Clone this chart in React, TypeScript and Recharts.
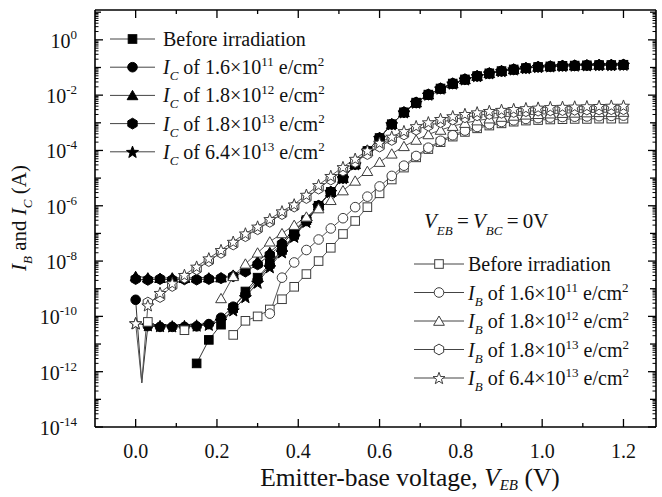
import React from 'react';
import { LineChart, Line, XAxis, YAxis } from 'recharts';

const SERIF = "'Liberation Serif', 'Times New Roman', serif";

// emitter-base voltage grid (V); 0.015 only carries the dip of two curves
const VEB = [
  0, 0.015, 0.03, 0.06, 0.09, 0.12, 0.15, 0.18, 0.21, 0.24, 0.27, 0.3, 0.33, 0.36, 0.39, 0.42,
  0.45, 0.48, 0.51, 0.54, 0.57, 0.6, 0.63, 0.66, 0.69, 0.72, 0.75, 0.78, 0.81, 0.84, 0.87, 0.9,
  0.93, 0.96, 0.99, 1.02, 1.05, 1.08, 1.11, 1.14, 1.17, 1.2,
];
const NO_MARKER_AT = [0.015];

// all values are log10 of the current in A
// collector current above 0.45 V, common to every dose
const IC_HIGH = [
  -6.0, -5.5, -5.0, -4.5, -4.02, -3.55, -3.05, -2.62, -2.27, -1.98,
  -1.76, -1.58, -1.43, -1.31, -1.21, -1.13, -1.07, -1.02, -0.98, -0.96,
  -0.94, -0.93, -0.92, -0.91, -0.91, -0.9,
];
// collector current from 0 to 0.42 V
const IC_BEFORE_LOW = [null, null, null, null, null, null, -11.7, -10.85, -10.3, -9.7, -9.1, -8.6, -8.1, -7.6, -7.05, -6.52];
const IC_16E11_LOW = [-9.4, -12.4, -10.35, -10.38, -10.38, -10.38, -10.36, -10.28, -10.05, -9.65, -9.2, -8.68, -8.15, -7.62, -7.08, -6.55];
const IC_18E12_LOW = [-8.55, null, -8.6, -8.62, -8.6, -8.62, -8.6, -8.6, -8.6, -8.5, -8.3, -8.0, -7.68, -7.3, -6.9, -6.45];
const IC_18E13_LOW = [-8.65, null, -8.68, -8.65, -8.68, -8.66, -8.67, -8.65, -8.62, -8.55, -8.38, -8.12, -7.78, -7.38, -6.95, -6.5];
const IC_64E13_LOW = [-10.25, null, -10.32, -10.35, -10.36, -10.35, -10.33, -10.3, -10.15, -9.78, -9.3, -8.78, -8.22, -7.68, -7.12, -6.58];

// base current
const IB_BEFORE = [
  null, null, -10.2, null, null, -10.5, null, null, null, -10.67, -10.16, -10.0, -9.75, -9.38, -8.93, -8.47,
  -8.0, -7.52, -7.02, -6.55, -6.05, -5.55, -5.05, -4.62, -4.25, -3.95,
  -3.7, -3.5, -3.33, -3.2, -3.1, -3.02, -2.96, -2.92, -2.9, -2.88,
  -2.87, -2.86, -2.86, -2.85, -2.85, -2.85,
];
const IB_16E11 = [
  null, null, null, null, null, null, null, null, null, null, null, null, -9.9, -8.6, -8.05, -7.6,
  -7.22, -6.82, -6.45, -6.05, -5.67, -5.3, -4.92, -4.55, -4.2, -3.9,
  -3.65, -3.45, -3.28, -3.15, -3.05, -2.97, -2.91, -2.86, -2.83, -2.81,
  -2.79, -2.78, -2.77, -2.76, -2.75, -2.74,
];
const IB_18E12 = [
  null, null, null, null, null, null, null, null, -9.35, -8.55, -8.1, -7.7, -7.3, -7.0, -6.7, -6.4,
  -6.1, -5.8, -5.45, -5.1, -4.75, -4.42, -4.12, -3.85, -3.62, -3.42,
  -3.26, -3.12, -3.01, -2.92, -2.85, -2.79, -2.75, -2.71, -2.69, -2.67,
  -2.65, -2.64, -2.63, -2.62, -2.62, -2.61,
];
const IB_18E13 = [
  null, null, -9.5, -9.3, -8.9, -8.6, -8.3, -8.0, -7.7, -7.4, -7.1, -6.85, -6.58, -6.3, -6.03, -5.72,
  -5.38, -5.05, -4.73, -4.42, -4.13, -3.86, -3.62, -3.42, -3.25, -3.1,
  -2.98, -2.88, -2.8, -2.73, -2.68, -2.64, -2.61, -2.58, -2.56, -2.55,
  -2.54, -2.53, -2.52, -2.52, -2.51, -2.51,
];
const IB_64E13 = [
  -10.25, -12.4, -9.6, -9.15, -8.8, -8.5, -8.2, -7.9, -7.6, -7.3, -7.0, -6.75, -6.48, -6.2, -5.95, -5.6,
  -5.25, -4.92, -4.6, -4.3, -4.0, -3.72, -3.5, -3.3, -3.12, -2.98,
  -2.86, -2.76, -2.68, -2.62, -2.57, -2.53, -2.5, -2.47, -2.45, -2.43,
  -2.42, -2.41, -2.4, -2.39, -2.38, -2.38,
];

const DOSE_MANT = ['1.6', '1.8', '1.8', '6.4'];
const DOSE_EXP = ['11', '12', '13', '13'];

const X_MAJOR = [0, 0.2, 0.4, 0.6, 0.8, 1.0, 1.2];
const X_MINOR = [0.1, 0.3, 0.5, 0.7, 0.9, 1.1];
const Y_LABEL_EXP = [-14, -12, -10, -8, -6, -4, -2, 0];
const Y_ODD_EXP = [-13, -11, -9, -7, -5, -3, -1, 1];
const Y_MINOR_EXP = [-14, -13, -12, -11, -10, -9, -8, -7, -6, -5, -4, -3, -2, -1, 0];
const MINOR_MULT = [2, 3, 4, 5, 6, 7, 8, 9];

const X_DOMAIN = [-0.1, 1.28];
const Y_DOMAIN = [1e-14, 12];

// chart box
const W = 662;
const H = 497;
const MARGIN = { top: 10, right: 6, bottom: 0, left: 0 };
const X_AXIS_H = 70;
const Y_AXIS_W = 95;
const PLOT_LEFT = MARGIN.left + Y_AXIS_W;
const PLOT_RIGHT = W - MARGIN.right;
const PLOT_TOP = MARGIN.top;
const PLOT_BOTTOM = H - MARGIN.bottom - X_AXIS_H;

type Shape = 'square' | 'circle' | 'triangle' | 'hexagon' | 'star';

const toAmp = (v: number | null) => (v == null ? null : Math.pow(10, v));

const IC = {
  before: [...IC_BEFORE_LOW, ...IC_HIGH],
  d16e11: [...IC_16E11_LOW, ...IC_HIGH],
  d18e12: [...IC_18E12_LOW, ...IC_HIGH],
  d18e13: [...IC_18E13_LOW, ...IC_HIGH],
  d64e13: [...IC_64E13_LOW, ...IC_HIGH],
};

const SERIES: { key: string; values: (number | null)[]; shape: Shape; filled: boolean; connect: boolean }[] = [
  { key: 'icBefore', values: IC.before, shape: 'square', filled: true, connect: true },
  { key: 'ic16e11', values: IC.d16e11, shape: 'circle', filled: true, connect: true },
  { key: 'ic18e12', values: IC.d18e12, shape: 'triangle', filled: true, connect: true },
  { key: 'ic18e13', values: IC.d18e13, shape: 'hexagon', filled: true, connect: true },
  { key: 'ic64e13', values: IC.d64e13, shape: 'star', filled: true, connect: true },
  { key: 'ibBefore', values: IB_BEFORE, shape: 'square', filled: false, connect: false },
  { key: 'ib16e11', values: IB_16E11, shape: 'circle', filled: false, connect: false },
  { key: 'ib18e12', values: IB_18E12, shape: 'triangle', filled: false, connect: false },
  { key: 'ib18e13', values: IB_18E13, shape: 'hexagon', filled: false, connect: false },
  { key: 'ib64e13', values: IB_64E13, shape: 'star', filled: false, connect: false },
];

const data = VEB.map((veb, i) => {
  const row: Record<string, number | null> = { veb };
  SERIES.forEach((s) => {
    row[s.key] = toAmp(s.values[i]);
  });
  return row;
});

// tick marks of the frame: [value, length in px]
const X_TICK_MARKS: [number, number][] = [
  ...X_MAJOR.map((v) => [v, 8] as [number, number]),
  ...X_MINOR.map((v) => [v, 4] as [number, number]),
];
const Y_TICK_MARKS: [number, number][] = [];
Y_LABEL_EXP.forEach((e) => Y_TICK_MARKS.push([Math.pow(10, e), 8]));
Y_ODD_EXP.forEach((e) => Y_TICK_MARKS.push([Math.pow(10, e), 6]));
Y_MINOR_EXP.forEach((e) => MINOR_MULT.forEach((m) => Y_TICK_MARKS.push([m * Math.pow(10, e), 3.5])));

// same linear / log mapping as the chart axes, used only for the frame ticks
const xPx = (v: number) => PLOT_LEFT + ((v - X_DOMAIN[0]) / (X_DOMAIN[1] - X_DOMAIN[0])) * (PLOT_RIGHT - PLOT_LEFT);
const yPx = (v: number) =>
  PLOT_BOTTOM - (Math.log10(v / Y_DOMAIN[0]) / Math.log10(Y_DOMAIN[1] / Y_DOMAIN[0])) * (PLOT_BOTTOM - PLOT_TOP);

function polyPoints(shape: Shape, cx: number, cy: number) {
  const pts: string[] = [];
  if (shape === 'triangle') {
    [-90, 30, 150].forEach((a) => {
      const r = (a * Math.PI) / 180;
      pts.push(`${cx + 6.2 * Math.cos(r)},${cy + 1.2 + 6.2 * Math.sin(r)}`);
    });
  } else if (shape === 'hexagon') {
    for (let k = 0; k < 6; k++) {
      const r = ((-90 + 60 * k) * Math.PI) / 180;
      pts.push(`${cx + 5.4 * Math.cos(r)},${cy + 5.4 * Math.sin(r)}`);
    }
  } else {
    for (let k = 0; k < 10; k++) {
      const r = ((-90 + 36 * k) * Math.PI) / 180;
      const rad = k % 2 === 0 ? 6.3 : 2.6;
      pts.push(`${cx + rad * Math.cos(r)},${cy + 0.6 + rad * Math.sin(r)}`);
    }
  }
  return pts.join(' ');
}

function Marker({ shape, filled, cx, cy }: { shape: Shape; filled: boolean; cx: number; cy: number }) {
  const fill = filled ? '#000' : '#fff';
  const stroke = filled ? '#000' : '#3c3c3c';
  if (shape === 'square') {
    return <rect x={cx - 4.3} y={cy - 4.3} width={8.6} height={8.6} fill={fill} stroke={stroke} strokeWidth={1} />;
  }
  if (shape === 'circle') {
    return <circle cx={cx} cy={cy} r={4.8} fill={fill} stroke={stroke} strokeWidth={1} />;
  }
  return <polygon points={polyPoints(shape, cx, cy)} fill={fill} stroke={stroke} strokeWidth={1} />;
}

const makeDot = (name: string, shape: Shape, filled: boolean) => (props: any) => {
  const { cx, cy, payload, index } = props;
  const k = `${name}-${index}`;
  if (cx == null || cy == null || !isFinite(cx) || !isFinite(cy) || payload == null) return <g key={k} />;
  if (NO_MARKER_AT.includes(payload.veb)) return <g key={k} />;
  return (
    <g key={k}>
      <Marker shape={shape} filled={filled} cx={cx} cy={cy} />
    </g>
  );
};

function XTick(props: any) {
  const { x, y, payload } = props;
  return (
    <text x={x} y={y + 31} textAnchor="middle" fontSize={20} fontFamily={SERIF} fill="#111">
      {Number(payload.value).toFixed(1)}
    </text>
  );
}

function YTick(props: any) {
  const { x, y, payload } = props;
  const exp = Math.round(Math.log10(payload.value));
  return (
    <text x={x - 18} y={y + 8} textAnchor="end" fontSize={20} fontFamily={SERIF} fill="#111">
      10
      <tspan fontSize={13} dy={-9}>{exp}</tspan>
    </text>
  );
}

function Dose({ x, y, sub, i }: { x: number; y: number; sub: string; i: number }) {
  return (
    <text x={x} y={y + 7} fontSize={20} fontFamily={SERIF} fill="#111">
      <tspan fontStyle="italic">I</tspan>
      <tspan fontStyle="italic" fontSize={13} dy={6}>{sub}</tspan>
      <tspan dy={-6}>{` of ${DOSE_MANT[i]}×10`}</tspan>
      <tspan fontSize={13} dy={-8}>{DOSE_EXP[i]}</tspan>
      <tspan dy={8}> e/cm</tspan>
      <tspan fontSize={13} dy={-8}>2</tspan>
    </text>
  );
}

const LEGEND_SHAPES: Shape[] = ['square', 'circle', 'triangle', 'hexagon', 'star'];

function LegendBlock(p: { x0: number; len: number; gap: number; y0: number; step: number; filled: boolean; sub: string }) {
  const { x0, len, gap, y0, step, filled, sub } = p;
  return (
    <g>
      {LEGEND_SHAPES.map((shape, i) => {
        const y = y0 + i * step;
        return (
          <g key={shape}>
            <line x1={x0} x2={x0 + len} y1={y} y2={y} stroke="#444" strokeWidth={1} />
            <Marker shape={shape} filled={filled} cx={x0 + len / 2} cy={y} />
            {i === 0 ? (
              <text x={x0 + len + gap} y={y + 7} fontSize={20} fontFamily={SERIF} fill="#111">
                Before irradiation
              </text>
            ) : (
              <Dose x={x0 + len + gap} y={y} sub={sub} i={i - 1} />
            )}
          </g>
        );
      })}
    </g>
  );
}

function Frame() {
  return (
    <g>
      <line x1={PLOT_LEFT} x2={PLOT_RIGHT} y1={PLOT_TOP} y2={PLOT_TOP} stroke="#000" strokeWidth={1.6} />
      <line x1={PLOT_RIGHT} x2={PLOT_RIGHT} y1={PLOT_TOP} y2={PLOT_BOTTOM} stroke="#000" strokeWidth={1.6} />
      {X_TICK_MARKS.map(([v, len]) => (
        <g key={`x${v}`}>
          <line x1={xPx(v)} x2={xPx(v)} y1={PLOT_BOTTOM} y2={PLOT_BOTTOM - len} stroke="#000" strokeWidth={1.3} />
          <line x1={xPx(v)} x2={xPx(v)} y1={PLOT_TOP} y2={PLOT_TOP + len} stroke="#000" strokeWidth={1.3} />
        </g>
      ))}
      {Y_TICK_MARKS.map(([v, len]) => (
        <g key={`y${v}`}>
          <line x1={PLOT_LEFT} x2={PLOT_LEFT + len} y1={yPx(v)} y2={yPx(v)} stroke="#000" strokeWidth={len > 4 ? 1.3 : 1} />
          <line x1={PLOT_RIGHT} x2={PLOT_RIGHT - len} y1={yPx(v)} y2={yPx(v)} stroke="#000" strokeWidth={len > 4 ? 1.3 : 1} />
        </g>
      ))}
    </g>
  );
}

function Overlay() {
  return (
    <svg width={W} height={H} style={{ position: 'absolute', left: 0, top: 0, pointerEvents: 'none' }}>
      <Frame />
      <LegendBlock x0={110} len={45} gap={8} y0={39} step={28.2} filled={true} sub="C" />
      <LegendBlock x0={414} len={50} gap={4} y0={264} step={28.5} filled={false} sub="B" />
      <text x={424} y={228} fontSize={21} fontFamily={SERIF} fill="#111">
        <tspan fontStyle="italic">V</tspan>
        <tspan fontStyle="italic" fontSize={13} dy={7}>EB</tspan>
        <tspan dy={-7}>{'\u2009=\u2009'}</tspan>
        <tspan fontStyle="italic">V</tspan>
        <tspan fontStyle="italic" fontSize={13} dy={7}>BC</tspan>
        <tspan dy={-7}>{'\u2009=\u20090V'}</tspan>
      </text>
      <text x={410} y={486} textAnchor="middle" fontSize={25.5} fontFamily={SERIF} fill="#111">
        Emitter-base voltage,{' '}
        <tspan fontStyle="italic">V</tspan>
        <tspan fontStyle="italic" fontSize={15} dy={4}>EB</tspan>
        <tspan dy={-4}> (V)</tspan>
      </text>
      <text
        x={0}
        y={0}
        transform="translate(26,218) rotate(-90)"
        textAnchor="middle"
        fontSize={21}
        fontFamily={SERIF}
        fill="#111"
      >
        <tspan fontStyle="italic">I</tspan>
        <tspan fontStyle="italic" fontSize={13} dy={6}>B</tspan>
        <tspan dy={-6}> and </tspan>
        <tspan fontStyle="italic">I</tspan>
        <tspan fontStyle="italic" fontSize={13} dy={6}>C</tspan>
        <tspan dy={-6}> (A)</tspan>
      </text>
    </svg>
  );
}

const frameLine = { stroke: '#000', strokeWidth: 1.6 };

export default function App() {
  return (
    <div style={{ position: 'absolute', left: 0, top: 0, width: W, height: H, background: '#fff' }}>
      <LineChart width={W} height={H} data={data} margin={MARGIN}>
        <XAxis xAxisId="x" dataKey="veb" type="number" domain={X_DOMAIN} allowDataOverflow ticks={X_MAJOR}
          interval={0} height={X_AXIS_H} tickSize={0} tickMargin={0} axisLine={frameLine} tickLine={false}
          tick={<XTick />} />
        <YAxis yAxisId="y" type="number" scale="log" domain={Y_DOMAIN} allowDataOverflow
          ticks={Y_LABEL_EXP.map((e) => Math.pow(10, e))} interval={0} width={Y_AXIS_W} tickSize={0}
          tickMargin={0} axisLine={frameLine} tickLine={false} tick={<YTick />} />
        {SERIES.map((s) => (
          <Line
            key={s.key}
            xAxisId="x"
            yAxisId="y"
            dataKey={s.key}
            type="linear"
            stroke={s.filled ? '#333' : '#555'}
            strokeWidth={1}
            connectNulls={s.connect}
            dot={makeDot(s.key, s.shape, s.filled)}
            activeDot={false}
            isAnimationActive={false}
          />
        ))}
      </LineChart>
      <Overlay />
    </div>
  );
}
